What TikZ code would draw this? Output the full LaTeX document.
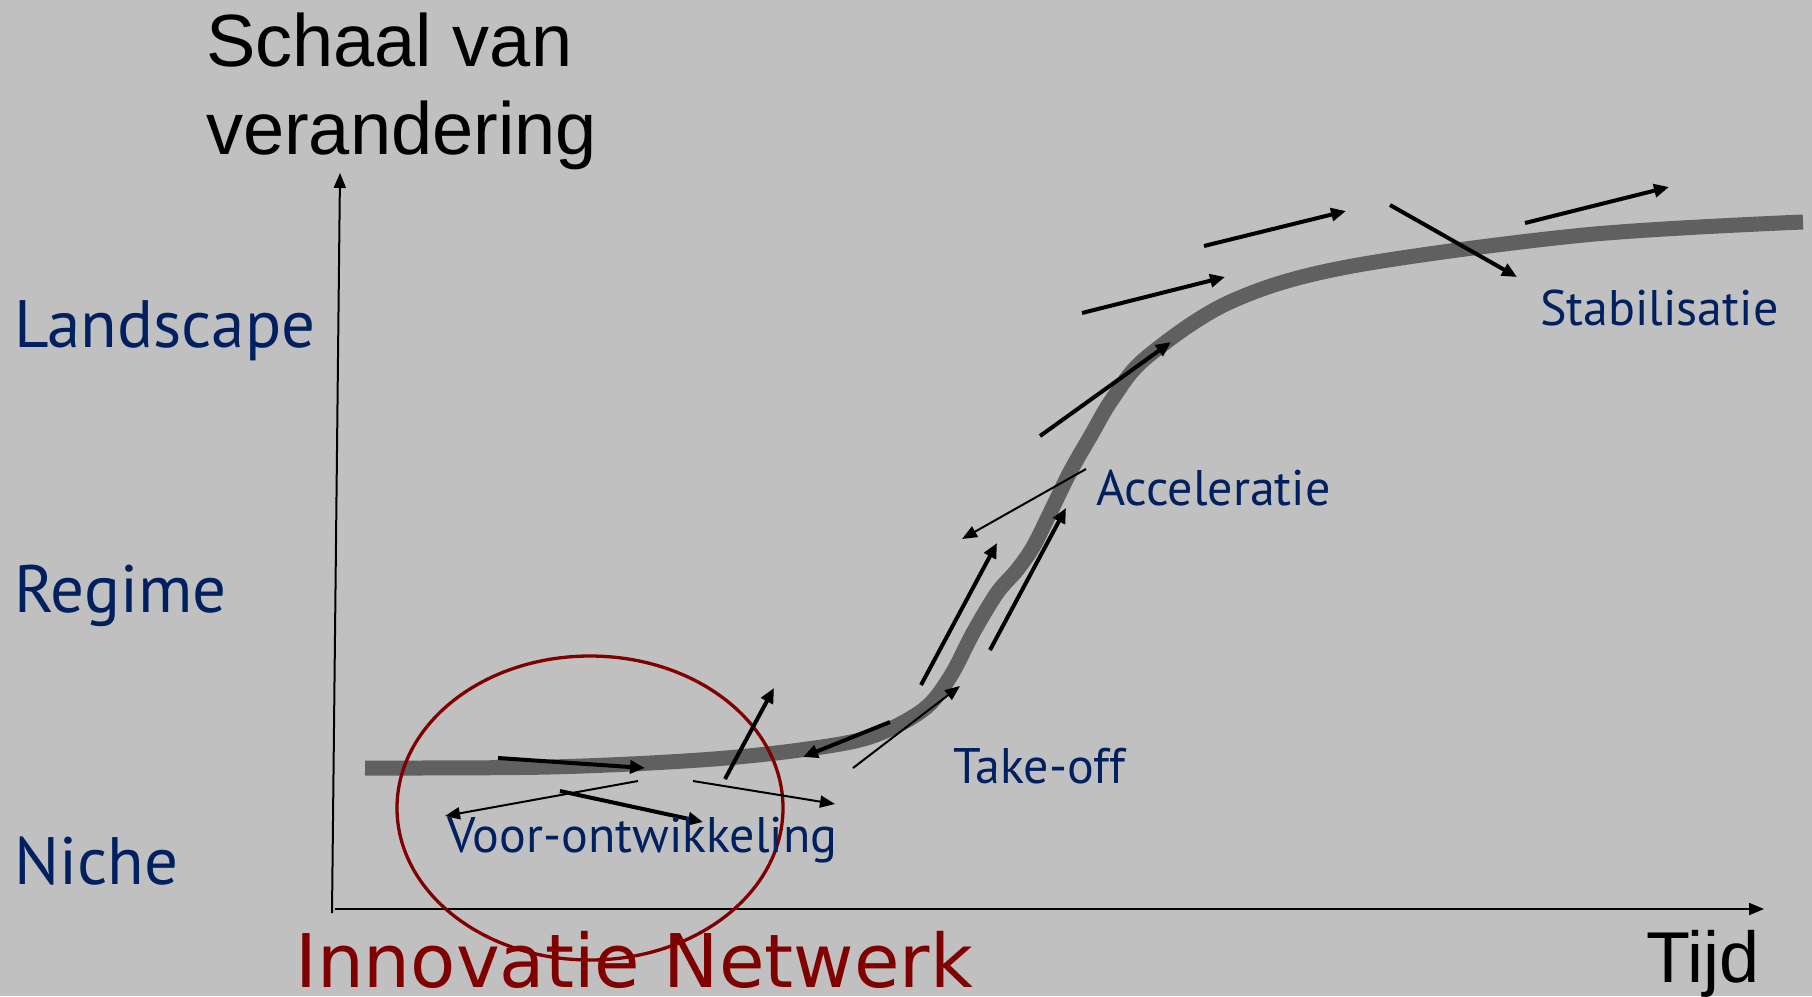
\documentclass[tikz,border=0pt]{standalone}
\usepackage{fontspec}
\setmainfont{Liberation Sans}
\newfontfamily\gillfont{PT Sans}
\newfontfamily\verdfont{DejaVu Sans}
\usetikzlibrary{arrows.meta}
\definecolor{bgc}{RGB}{192,192,192}
\definecolor{navy}{RGB}{0,32,96}
\definecolor{dred}{RGB}{128,0,0}
\definecolor{curvec}{RGB}{96,96,96}
\tikzset{
  bigblack/.style={anchor=base west,inner sep=0pt,font=\fontsize{74}{88}\selectfont,align=left},
  levellabel/.style={anchor=base west,inner sep=0pt,text=navy,font=\gillfont\fontsize{67}{80}\selectfont},
  phaselabel/.style={anchor=base west,inner sep=0pt,text=navy,font=\gillfont\fontsize{50}{60}\selectfont},
  axis/.style={line width=2pt,-{Triangle[length=15pt,width=12pt]}},
  thickarr/.style={line width=4pt,-{Triangle[length=15pt,width=13pt]}},
  thinarr/.style={line width=2pt,-{Triangle[length=15pt,width=12pt]}},
}
\begin{document}
\begin{tikzpicture}[x=1pt,y=-1pt]
\fill[bgc] (0,0) rectangle (1812,996);
\useasboundingbox (0,0) rectangle (1812,996);
% axes
\coordinate (yb) at (332,913);
\coordinate (yt) at (340,173);
\coordinate (xb) at (335,909);
\coordinate (xr) at (1764,909);
\draw[axis] (yb) -- (yt);
\draw[axis] (xb) -- (xr);
% S-curve
\draw[curvec,line width=15pt] plot[smooth,tension=0.55] coordinates {
 (365,768) (550,767) (700,760) (800,750) (870,737) (923,710) (950,677)
 (973,633) (997,593) (1017,570) (1033,547) (1050,513) (1070,472) (1090,437)
 (1113,398) (1147,357) (1230,302) (1347,267) (1584,235) (1803,222)};
% ellipse
\draw[dred,line width=3.3pt] (590,808) ellipse[x radius=193,y radius=152];
% arrows
\draw[thickarr] (498,758) -- (645,768);
\draw[thinarr] (638,781) -- (445,816);
\draw[thickarr] (560,791) -- (703,822);
\draw[thickarr] (725,779) -- (774,688);
\draw[thinarr] (693,781) -- (835,804);
\draw[thickarr] (890,722) -- (803,757);
\draw[thinarr] (853,768) -- (960,686);
\draw[thickarr] (921,685) -- (997,543);
\draw[thickarr] (990,650) -- (1066,508);
\draw[thinarr] (1086,469) -- (962,539);
\draw[thickarr] (1040,436) -- (1171,342);
\draw[thickarr] (1082,313) -- (1225,277);
\draw[thickarr] (1204,246) -- (1346,211);
\draw[thickarr] (1390,205) -- (1517,277);
\draw[thickarr] (1525,223) -- (1669,187);
% texts
\node[bigblack] (schaal) at (206,154) {Schaal van\\verandering};
\node[anchor=base west,inner sep=0pt,font=\fontsize{72}{86}\selectfont] (tijd) at (1646,982) {Tijd};
\node[levellabel] (landscape) at (14,347) {Landscape};
\node[levellabel] (regime) at (14,612) {Regime};
\node[levellabel] (niche) at (14,884) {Niche};
\node[anchor=base west,inner sep=0pt,text=dred,font=\verdfont\fontsize{74}{88}\selectfont] (innov) at (295,987) {Innovatie Netwerk};
\node[phaselabel] (voor) at (447,852) {Voor-ontwikkeling};
\node[phaselabel] (take) at (953,783) {Take-off};
\node[phaselabel] (acc) at (1096,505) {Acceleratie};
\node[phaselabel] (stab) at (1540,325) {Stabilisatie};
\end{tikzpicture}
\end{document}
